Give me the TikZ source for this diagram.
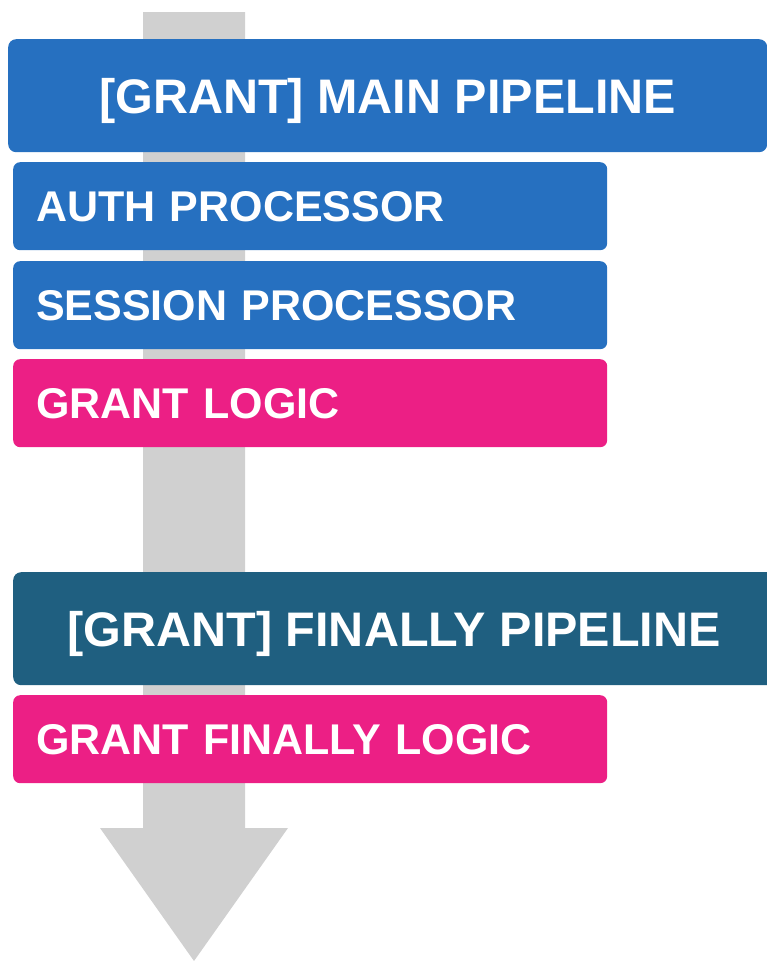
\documentclass[tikz,border=0pt]{standalone}
\usepackage{fontspec}
\setmainfont{Liberation Sans}
\usetikzlibrary{positioning}
\definecolor{mainblue}{HTML}{2670C0}
\definecolor{finteal}{HTML}{1F5F80}
\definecolor{logicpink}{HTML}{EC1F85}
\definecolor{flowgray}{HTML}{D0D0D0}
\tikzset{
	pipebox/.style={rounded corners=8pt, anchor=north west, inner sep=0pt,
		minimum height=113pt, text=white, text height=34.7pt, text depth=0pt,
		font=\fontsize{48.5}{52}\selectfont\bfseries},
	stepbox/.style={rounded corners=7pt, anchor=north west, inner xsep=23pt, inner ysep=0pt,
		text width=548pt, align=left, minimum height=88pt, text=white,
		text height=30.8pt, text depth=0pt,
		font=\fontsize{43}{46}\selectfont\bfseries},
}

\begin{document}
\begin{tikzpicture}[x=1pt, y=-1pt]
		\useasboundingbox (0,0) rectangle (767,961);
		% flow arrow behind the boxes
		\fill[flowgray] (143,12) -- (245,12) -- (245,828) -- (288,828) -- (194,961) -- (100,828) -- (143,828) -- cycle;
		\node[pipebox, fill=mainblue, minimum width=759pt] (mainpipe) at (8,39) {[GRANT] MAIN PIPELINE};
		\node[stepbox, fill=mainblue] (auth) at (13,162) {AUTH PROCESSOR};
		\node[stepbox, fill=mainblue] (session) at (13,261) {SESSION PROCESSOR};
		\node[stepbox, fill=logicpink] (grantlogic) at (13,359) {GRANT LOGIC};
		\begin{scope}
			\clip (0,0) rectangle (767,961);
			\node[pipebox, fill=finteal, minimum width=762pt] (finpipe) at (13,572) {[GRANT] FINALLY PIPELINE};
		\end{scope}
		\node[stepbox, fill=logicpink] (finlogic) at (13,695) {GRANT FINALLY LOGIC};
	\end{tikzpicture}
\end{document}
